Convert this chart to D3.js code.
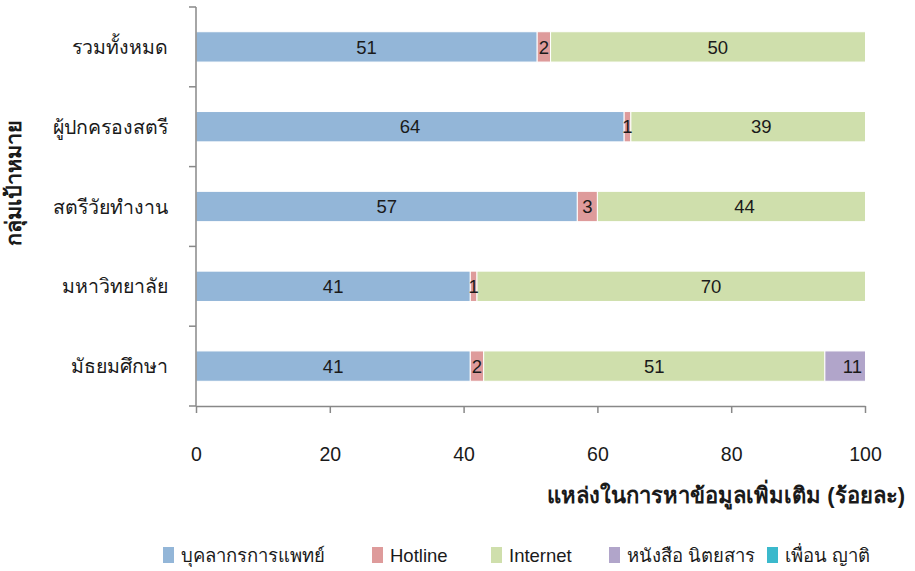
<!DOCTYPE html>
<html>
<head>
<meta charset="utf-8">
<script src="https://cdn.jsdelivr.net/npm/d3@7"></script>
<style>
  html, body { margin: 0; padding: 0; background: #fff; }
  svg text { font-family: "Liberation Sans Narrow", "Arial Narrow", "Liberation Sans", sans-serif; fill: #1a1a1a; }
</style>
</head>
<body>
<svg id="chart" width="915" height="571"></svg>
<script>
// Target groups (top to bottom)
const categories = ["รวมทั้งหมด", "ผู้ปกครองสตรี", "สตรีวัยทำงาน", "มหาวิทยาลัย", "มัธยมศึกษา"];
// Information sources (stack order)
const seriesNames = ["บุคลากรการแพทย์", "Hotline", "Internet", "หนังสือ นิตยสาร", "เพื่อน ญาติ"];
const seriesColors = ["#93b6d8", "#de9b9b", "#cfdfac", "#b1a5ca", "#3bb9cc"];
// Percent of respondents per source, one array per source, aligned with categories
const medical  = [51, 64, 57, 41, 41];
const hotline  = [2, 1, 3, 1, 2];
const internet = [50, 39, 44, 70, 51];
const books    = [0, 0, 0, 0, 11];
const friends  = [0, 0, 0, 0, 0];
const xTicks = [0, 20, 40, 60, 80, 100];
const xTitle = "แหล่งในการหาข้อมูลเพิ่มเติม (ร้อยละ)";
const yTitle = "กลุ่มเป้าหมาย";

const seriesValues = [medical, hotline, internet, books, friends];
const rows = categories.map((c, i) => {
  const r = { category: c };
  seriesNames.forEach((s, k) => { r[s] = seriesValues[k][i]; });
  return r;
});

const svg = d3.select("#chart");
const margin = { left: 196, right: 50, top: 7, bottom: 165 };
const W = 915, H = 571;
const x = d3.scaleLinear().domain([0, 100]).range([margin.left, W - margin.right]);
const y = d3.scaleBand().domain(categories).range([margin.top, H - margin.bottom]).paddingInner(0.62).paddingOuter(0.31);
const yOuter = d3.scaleBand().domain(categories).range([margin.top, H - margin.bottom]);

const stacked = d3.stack().keys(seriesNames)(rows);

const clipId = "plotClip";
svg.append("defs").append("clipPath").attr("id", clipId)
  .append("rect")
  .attr("x", x(0)).attr("y", margin.top)
  .attr("width", x(100) - x(0)).attr("height", H - margin.bottom - margin.top);

const plot = svg.append("g").attr("clip-path", `url(#${clipId})`);
stacked.forEach((layer, k) => {
  plot.append("g").selectAll("rect")
    .data(layer.filter(d => d[1] > d[0]))
    .join("rect")
    .attr("x", d => x(d[0]))
    .attr("y", d => y(d.data.category))
    .attr("width", d => x(d[1]) - x(d[0]))
    .attr("height", y.bandwidth())
    .attr("fill", seriesColors[k])
    .attr("stroke", "#fff")
    .attr("stroke-width", 1);
});

// Value labels centred in each segment, kept inside the plot
const labels = svg.append("g");
stacked.forEach((layer) => {
  layer.filter(d => d[1] > d[0]).forEach(d => {
    const v = d[1] - d[0];
    const t = labels.append("text")
      .attr("y", y(d.data.category) + y.bandwidth() / 2)
      .attr("dy", "0.36em")
      .attr("text-anchor", "middle")
      .attr("font-size", 18.5)
      .text(v);
    const w = t.node().getComputedTextLength();
    let cx = x((d[0] + d[1]) / 2);
    cx = Math.min(cx, x(100) - w / 2 - 3);
    t.attr("x", cx);
  });
});

// Y axis
const yAxis = svg.append("g")
  .attr("transform", `translate(${x(0)},0)`);
yAxis.append("line")
  .attr("x1", 0).attr("x2", 0)
  .attr("y1", margin.top).attr("y2", H - margin.bottom)
  .attr("stroke", "#888").attr("stroke-width", 1.5);
const yTickPos = categories.map(c => yOuter(c)).concat([H - margin.bottom]);
yAxis.selectAll("line.tick").data(yTickPos).join("line")
  .attr("class", "tick")
  .attr("x1", -7).attr("x2", 0)
  .attr("y1", d => d).attr("y2", d => d)
  .attr("stroke", "#888").attr("stroke-width", 1.5);
yAxis.selectAll("text").data(categories).join("text")
  .attr("x", -28)
  .attr("y", d => y(d) + y.bandwidth() / 2)
  .attr("dy", "0.36em")
  .attr("text-anchor", "end")
  .attr("font-size", 19.5)
  .text(d => d);

// X axis
const xAxis = svg.append("g")
  .attr("transform", `translate(0,${H - margin.bottom})`)
  .call(d3.axisBottom(x).tickValues(xTicks).tickSize(7).tickSizeOuter(0).tickPadding(34));
xAxis.select(".domain").attr("stroke", "#888").attr("stroke-width", 1.5);
xAxis.selectAll(".tick line").attr("stroke", "#888").attr("stroke-width", 1.5);
xAxis.selectAll(".tick text")
  .attr("font-size", 19.5)
  .attr("font-family", "'Liberation Sans Narrow', 'Arial Narrow', sans-serif")
  .attr("fill", "#1a1a1a");

// Axis titles
svg.append("text")
  .attr("x", 905).attr("y", 503)
  .attr("text-anchor", "end")
  .attr("font-size", 22)
  .attr("font-weight", "bold")
  .text(xTitle);

svg.append("text")
  .attr("transform", "translate(21,183) rotate(-90)")
  .attr("text-anchor", "middle")
  .attr("font-size", 21.5)
  .attr("font-weight", "bold")
  .text(yTitle);

// Legend
const legendX = [163, 372, 491, 609, 767];
const legend = svg.append("g");
seriesNames.forEach((s, k) => {
  const g = legend.append("g").attr("transform", `translate(${legendX[k]},555)`);
  g.append("rect").attr("x", 0).attr("y", -8).attr("width", 11).attr("height", 16)
    .attr("fill", seriesColors[k]);
  g.append("text").attr("x", 18).attr("y", 0).attr("dy", "0.36em")
    .attr("font-size", 18.5).text(s);
});
</script>
</body>
</html>
